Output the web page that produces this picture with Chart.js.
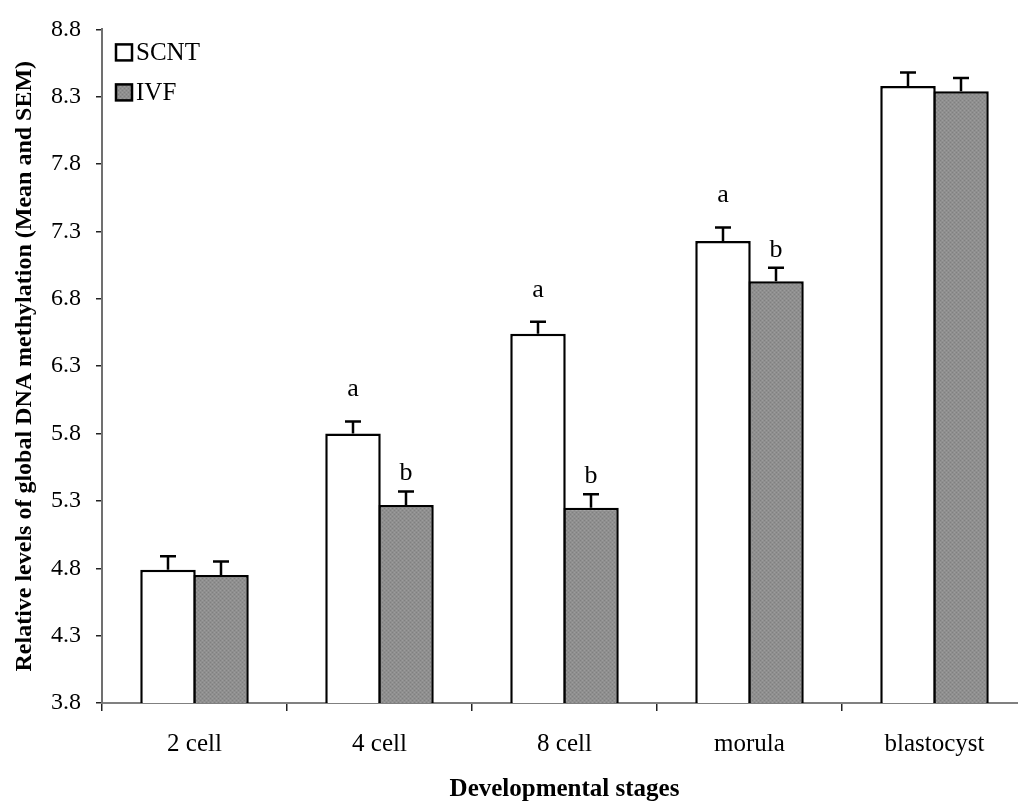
<!DOCTYPE html>
<html>
<head>
<meta charset="utf-8">
<script src="https://cdn.jsdelivr.net/npm/chart.js@4"></script>
<style>
  html, body { margin: 0; padding: 0; background: #fff; overflow: hidden; }
  canvas { display: block; }
</style>
</head>
<body>
<canvas id="c" width="1040" height="802"></canvas>
<script>
// Developmental stages on the x axis
const stages = ['2 cell', '4 cell', '8 cell', 'morula', 'blastocyst'];

// Relative global DNA methylation, means
const scntMean = [4.79, 5.80, 6.54, 7.23, 8.38];
const ivfMean  = [4.75, 5.27, 5.25, 6.93, 8.34];

// Standard errors of the mean
const scntSem = [0.10, 0.09, 0.09, 0.10, 0.10];
const ivfSem  = [0.10, 0.10, 0.10, 0.10, 0.10];

// Significance letters per stage
const scntLetters = ['', 'a', 'a', 'a', ''];
const ivfLetters  = ['', 'b', 'b', 'b', ''];

// y axis tick values
const yTicks = [3.8, 4.3, 4.8, 5.3, 5.8, 6.3, 6.8, 7.3, 7.8, 8.3, 8.8];

const SERIF = '"Liberation Serif", "Times New Roman", serif';

// fine stippled grey fill for the IVF bars
function stipple() {
  const p = document.createElement('canvas');
  p.width = 4; p.height = 4;
  const g = p.getContext('2d');
  g.fillStyle = '#8f8f8f';
  g.fillRect(0, 0, 4, 4);
  g.fillStyle = '#808080';
  g.fillRect(0, 0, 1, 1); g.fillRect(2, 2, 1, 1);
  g.fillStyle = '#9c9c9c';
  g.fillRect(2, 0, 1, 1); g.fillRect(0, 2, 1, 1);
  return document.getElementById('c').getContext('2d').createPattern(p, 'repeat');
}
const greyFill = stipple();

// error bars (mean + SEM) and letters above them
const errorBars = {
  id: 'errorBars',
  afterDatasetsDraw(chart) {
    const ctx = chart.ctx;
    const y = chart.scales.y;
    chart.data.datasets.forEach((ds, di) => {
      const meta = chart.getDatasetMeta(di);
      meta.data.forEach((bar, i) => {
        const top = y.getPixelForValue(ds.data[i] + ds.sem[i]);
        const base = y.getPixelForValue(ds.data[i]);
        ctx.save();
        ctx.strokeStyle = '#000';
        ctx.lineWidth = 2.5;
        ctx.beginPath();
        ctx.moveTo(bar.x, base);
        ctx.lineTo(bar.x, top);
        ctx.moveTo(bar.x - 8, top);
        ctx.lineTo(bar.x + 8, top);
        ctx.stroke();
        const letter = ds.letters[i];
        if (letter) {
          ctx.fillStyle = '#000';
          ctx.font = '26px ' + SERIF;
          ctx.textAlign = 'center';
          ctx.textBaseline = 'alphabetic';
          ctx.fillText(letter, bar.x, top - ds.letterGap);
        }
        ctx.restore();
      });
    });
  }
};

// legend in the upper left of the plot
const boxLegend = {
  id: 'boxLegend',
  afterDraw(chart) {
    const ctx = chart.ctx;
    const a = chart.chartArea;
    chart.data.datasets.forEach((ds, i) => {
      const bx = a.left + 14, by = a.top + 15 + i * 40;
      ctx.save();
      ctx.fillStyle = ds.backgroundColor;
      ctx.fillRect(bx, by, 16, 16);
      ctx.strokeStyle = '#000';
      ctx.lineWidth = 2.5;
      ctx.strokeRect(bx, by, 16, 16);
      ctx.fillStyle = '#000';
      ctx.font = '25px ' + SERIF;
      ctx.textAlign = 'left';
      ctx.textBaseline = 'middle';
      ctx.fillText(ds.label, bx + 20, by + 9);
      ctx.restore();
    });
  }
};

new Chart(document.getElementById('c'), {
  type: 'bar',
  data: {
    labels: stages,
    datasets: [
      {
        label: 'SCNT', data: scntMean, sem: scntSem, letters: scntLetters, letterGap: 25,
        backgroundColor: '#ffffff', borderColor: '#000', borderWidth: 2.5,
        categoryPercentage: 0.573, barPercentage: 1.047
      },
      {
        label: 'IVF', data: ivfMean, sem: ivfSem, letters: ivfLetters, letterGap: 11,
        backgroundColor: greyFill, borderColor: '#000', borderWidth: 2.5,
        categoryPercentage: 0.573, barPercentage: 1.047
      }
    ]
  },
  options: {
    responsive: false,
    animation: false,
    layout: { padding: { top: 24, right: 13, left: 0, bottom: 0 } },
    plugins: { legend: { display: false }, tooltip: { enabled: false } },
    scales: {
      x: {
        afterFit(s) { s.height = 99; },
        border: { display: true, color: '#808080', width: 2 },
        grid: { offset: true, drawOnChartArea: false, drawTicks: true, tickLength: 8, color: '#222', lineWidth: 1.5 },
        ticks: { color: '#000', padding: 18, font: { family: SERIF, size: 25 } },
        title: {
          display: true, text: 'Developmental stages', color: '#000',
          font: { family: SERIF, size: 25, weight: 'bold' }, padding: { top: 0, bottom: -3 }
        }
      },
      y: {
        min: 3.8, max: 8.8,
        afterFit(s) { s.width = 102; },
        afterBuildTicks(s) { s.ticks = yTicks.map(v => ({ value: v })); },
        border: { display: true, color: '#707070', width: 2 },
        grid: { drawOnChartArea: false, drawTicks: true, tickLength: 6, color: '#222', lineWidth: 1.5 },
        ticks: {
          color: '#000', padding: 15, font: { family: SERIF, size: 24 },
          callback: v => Number(v).toFixed(1)
        },
        title: {
          display: true, text: 'Relative levels of global DNA methylation (Mean and SEM)', color: '#000',
          font: { family: SERIF, size: 24, weight: 'bold' }, padding: { top: 10, bottom: 0 }
        }
      }
    }
  },
  plugins: [errorBars, boxLegend]
});
</script>
</body>
</html>
